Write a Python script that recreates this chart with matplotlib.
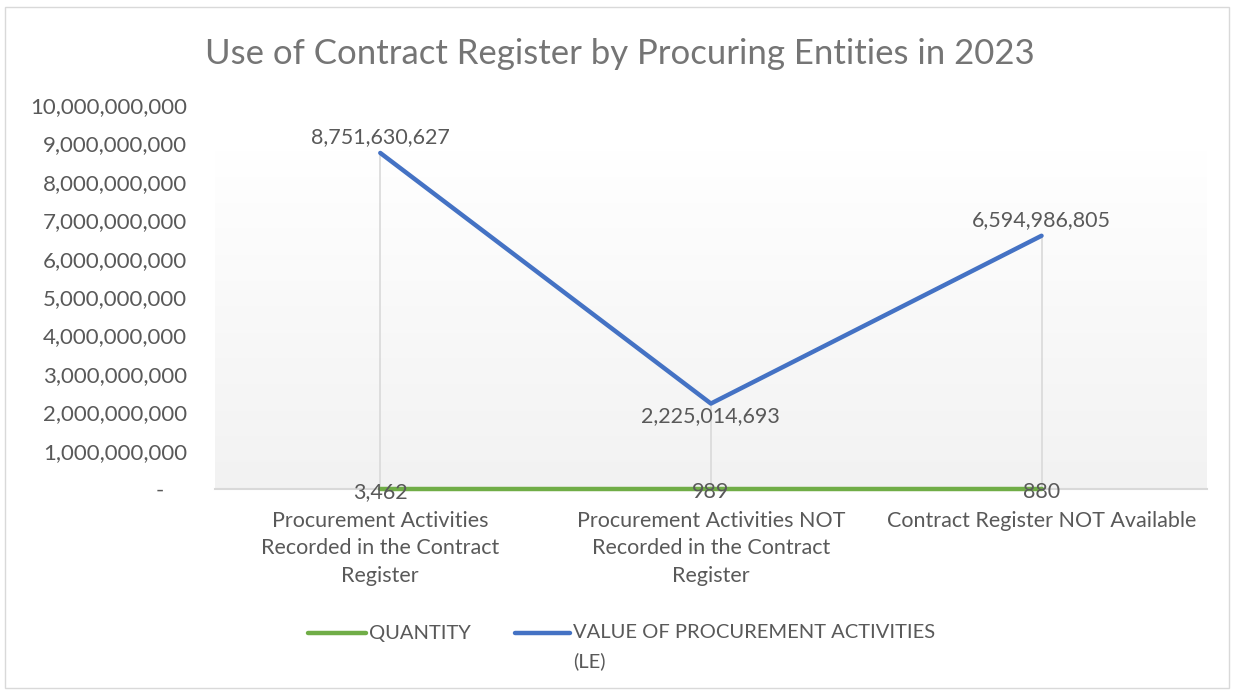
import numpy as np
import matplotlib.pyplot as plt
from matplotlib.lines import Line2D
from matplotlib.patches import Rectangle
from matplotlib.colors import LinearSegmentedColormap
from matplotlib.ticker import FuncFormatter

plt.rcParams['font.family'] = ['Lato', 'DejaVu Sans']

categories = ['Procurement Activities\nRecorded in the Contract\nRegister',
              'Procurement Activities NOT\nRecorded in the Contract\nRegister',
              'Contract Register NOT Available']
quantity = [3462, 989, 880]
value_le = [8751630627, 2225014693, 6594986805]
series_names = ['QUANTITY', 'VALUE OF PROCUREMENT ACTIVITIES\n(LE)']
title = 'Use of Contract Register by Procuring Entities in 2023'

txt = '#595959'
green = '#70ad47'
blue = '#4472c4'

fig = plt.figure(figsize=(12.34, 6.95), dpi=100)
fig.add_artist(Rectangle((0.004, 0.01), 0.992, 0.98, transform=fig.transFigure,
                         fill=False, edgecolor='#d9d9d9', lw=1))
ax = fig.add_axes([0.1742, 0.2964, 0.8038, 0.5525])
x = np.arange(len(categories))
ax.set_xlim(-0.5, len(categories) - 0.5)
ax.set_ylim(0, 1e10)

# gradient plot background: light gray at bottom fading to white at top
grad = np.linspace(0, 1, 256).reshape(-1, 1)
top_bg = max(value_le) * 1.006
ax.imshow(grad, extent=(-0.5, len(categories) - 0.5, 0, top_bg), origin='lower',
          aspect='auto', cmap=LinearSegmentedColormap.from_list('bg', ['#f2f2f2', '#ffffff']),
          zorder=0)

# drop lines
for xi, v in zip(x, value_le):
    ax.plot([xi, xi], [0, v], color='#d9d9d9', lw=1.2, zorder=1)
ax.axhline(0, color='#d9d9d9', lw=1.5, zorder=1, clip_on=False)

ax.plot(x, quantity, color=green, lw=3.2, solid_capstyle='round', zorder=3, clip_on=False)
ax.plot(x, value_le, color=blue, lw=3.2, solid_capstyle='round', zorder=3, clip_on=False)

for xi, v in zip(x, value_le):
    if v == min(value_le):
        ax.annotate(f'{v:,}', (xi, v), xytext=(0, -2), textcoords='offset points',
                    ha='center', va='top', fontsize=15.5, color=txt, zorder=4)
    else:
        ax.annotate(f'{v:,}', (xi, v), xytext=(0, 4), textcoords='offset points',
                    ha='center', va='bottom', fontsize=15.5, color=txt, zorder=4)
for xi, q in zip(x, quantity):
    ax.annotate(f'{q:,}', (xi, q), xytext=(0, -2), textcoords='offset points',
                ha='center', va='center', fontsize=15.5, color=txt, zorder=4,
                annotation_clip=False)

ax.set_yticks(np.arange(0, 1e10 + 1, 1e9))
ax.yaxis.set_major_formatter(FuncFormatter(lambda v, p: f'{int(v):,}' if v > 0 else '-    '))
ax.set_xticks(x)
ax.set_xticklabels(categories, linespacing=1.45)
ax.tick_params(axis='y', length=0, pad=20, labelsize=16, labelcolor=txt)
ax.tick_params(axis='x', length=0, pad=16, labelsize=15.5, labelcolor=txt)
for s in ax.spines.values():
    s.set_visible(False)

fig.text(0.502, 0.922, title, ha='center', va='center', fontsize=25, color='#757575')

# legend
ly = 1 - 633 / 695
fig.add_artist(Line2D([308 / 1234, 366 / 1234], [ly, ly], transform=fig.transFigure,
                      color=green, lw=3.2, solid_capstyle='round'))
fig.text(369 / 1234, ly, series_names[0], ha='left', va='center', fontsize=14.5, color=txt)
fig.add_artist(Line2D([515 / 1234, 570 / 1234], [ly, ly], transform=fig.transFigure,
                      color=blue, lw=3.2, solid_capstyle='round'))
for i, line in enumerate(series_names[1].split('\n')):
    fig.text(573 / 1234, ly - i * 28 / 695, line, ha='left', va='center', fontsize=14.5,
             color=txt)

fig.savefig('out.png', dpi=100)
